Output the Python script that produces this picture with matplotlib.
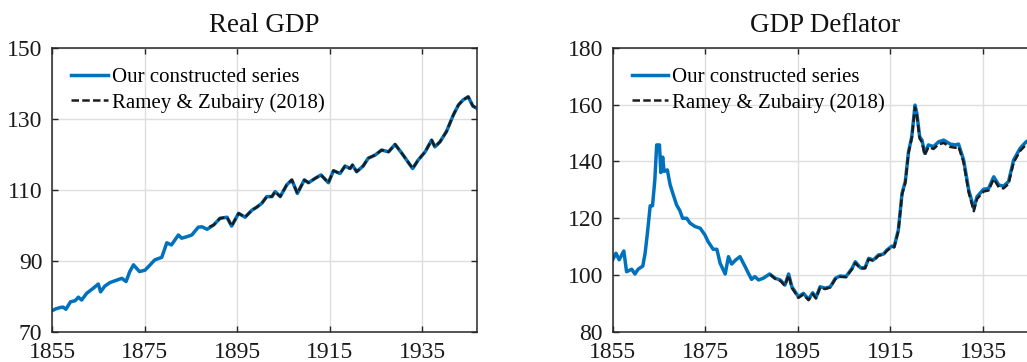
import numpy as np
import matplotlib
matplotlib.use("Agg")
import matplotlib.pyplot as plt

plt.rcParams['font.family'] = ['Liberation Serif', 'DejaVu Serif']

# Real GDP (index)
gdp_years = [1855.0, 1855.8, 1856.8, 1857.4, 1858.0, 1859.0, 1860.0, 1860.7, 1861.4, 1862.5,
             1863.9, 1865.0, 1865.5, 1866.4, 1867.5, 1869.0, 1870.1, 1871.0, 1871.8, 1872.6,
             1873.9, 1875.1, 1876.2, 1877.2, 1878.7, 1879.0, 1879.8, 1880.8, 1882.3, 1883.0,
             1884.1, 1885.2, 1886.6, 1887.4, 1888.5, 1889.9, 1891.3, 1892.8, 1893.8, 1895.3,
             1896.7, 1898.2, 1899.2, 1900.3, 1901.4, 1902.5, 1903.2, 1904.3, 1905.7, 1906.8,
             1908.0, 1909.5, 1910.4, 1911.8, 1913.1, 1914.7, 1915.8, 1917.2, 1918.3, 1919.4,
             1919.9, 1920.8, 1922.2, 1923.3, 1924.8, 1926.2, 1927.7, 1929.1, 1930.5, 1931.6,
             1932.9, 1934.1, 1935.6, 1937.0, 1937.7, 1938.8, 1940.2, 1941.7, 1942.8, 1943.8,
             1944.9, 1945.9, 1946.8]
gdp_ours = [76.0, 76.5, 76.9, 77.0, 76.4, 78.5, 78.8, 79.8, 79.0, 80.9,
            82.3, 83.5, 81.3, 82.9, 83.9, 84.6, 85.1, 84.2, 87.0, 88.9,
            87.0, 87.4, 88.9, 90.3, 91.0, 92.1, 95.1, 94.5, 97.3, 96.4,
            96.8, 97.3, 99.5, 99.6, 98.9, 100.1, 102.0, 102.3, 99.8, 103.4,
            102.3, 104.3, 105.1, 106.2, 108.1, 108.1, 109.5, 108.1, 111.4, 112.8,
            109.0, 112.8, 112.0, 113.2, 114.2, 112.0, 115.4, 114.6, 116.7, 116.0,
            117.0, 115.1, 116.7, 118.9, 119.8, 121.2, 120.7, 122.8, 120.4, 118.4,
            116.0, 118.4, 120.7, 124.0, 122.1, 123.5, 126.4, 131.1, 133.9, 135.3,
            136.2, 133.6, 132.9]

rz_gdp_years = [1889.0, 1889.9, 1891.3, 1892.8, 1893.8, 1895.3,
                1896.7, 1898.2, 1899.2, 1900.3, 1901.4, 1902.5, 1903.2, 1904.3, 1905.7, 1906.8,
                1908.0, 1909.5, 1910.4, 1911.8, 1913.1, 1914.7, 1915.8, 1917.2, 1918.3, 1919.4,
                1919.9, 1920.8, 1922.2, 1923.3, 1924.8, 1926.2, 1927.7, 1929.1, 1930.5, 1931.6,
                1932.9, 1934.1, 1935.6, 1937.0, 1937.7, 1938.8, 1940.2, 1941.7, 1942.8, 1943.8,
                1944.9, 1945.9, 1946.8]
rz_gdp = [99.6, 100.1, 102.0, 102.3, 99.8, 103.4,
          102.3, 104.3, 105.1, 106.2, 108.1, 108.1, 109.5, 108.1, 111.4, 112.8,
          109.0, 112.8, 112.0, 113.2, 114.2, 112.0, 115.4, 114.6, 116.7, 116.0,
          117.0, 115.1, 116.7, 118.9, 119.8, 121.2, 120.7, 122.8, 120.4, 118.4,
          116.0, 118.4, 120.7, 124.0, 122.1, 123.5, 126.4, 131.1, 133.9, 135.3,
          136.2, 133.6, 132.9]

# GDP deflator
defl_years = [1855.0, 1855.7, 1856.4, 1857.4, 1858.0, 1859.1, 1859.8, 1860.5, 1861.5, 1862.0,
              1862.5, 1863.1, 1863.6, 1864.1, 1864.5, 1865.1, 1865.4, 1865.8, 1866.1, 1866.8,
              1867.4, 1868.1, 1868.8, 1869.5, 1870.1, 1871.0, 1871.7, 1872.8, 1873.9, 1874.9,
              1875.6, 1876.7, 1877.5, 1878.2, 1879.3, 1880.0, 1880.7, 1881.6, 1882.5, 1883.6,
              1884.3, 1885.0, 1885.7, 1886.5, 1887.5, 1888.9, 1890.1, 1891.2, 1892.2, 1893.0,
              1893.7, 1894.4, 1895.1, 1896.2, 1897.3, 1898.2, 1898.9, 1899.8, 1900.9, 1902.0,
              1903.1, 1904.1, 1905.4, 1906.7, 1907.4, 1908.5, 1909.5, 1910.3, 1911.3, 1912.4,
              1913.5, 1914.2, 1915.3, 1915.8, 1916.7, 1917.5, 1918.2, 1918.9, 1919.6, 1920.3,
              1920.7, 1921.3, 1921.8, 1922.4, 1923.2, 1924.3, 1925.4, 1926.5, 1927.9, 1929.0,
              1929.7, 1930.8, 1931.9, 1933.0, 1933.7, 1935.1, 1936.2, 1937.3, 1938.4, 1939.4,
              1940.5, 1941.6, 1943.0, 1944.3, 1945.3, 1946.8]
defl_ours = [105.4, 107.7, 105.4, 108.5, 101.2, 102.1, 100.4, 102.1, 103.2, 107.7,
             114.8, 124.4, 124.4, 133.5, 145.8, 145.8, 136.1, 141.5, 136.5, 137.0,
             131.8, 128.2, 124.7, 122.7, 120.0, 120.0, 118.3, 117.1, 116.5, 114.2,
             111.8, 109.1, 109.1, 104.2, 100.4, 106.5, 103.9, 105.4, 106.5, 103.0,
             100.7, 98.5, 99.5, 98.3, 98.9, 100.4, 98.9, 98.3, 96.5, 100.4,
             95.9, 94.2, 92.4, 93.6, 91.5, 93.8, 92.1, 95.9, 95.4, 95.9,
             98.9, 99.7, 99.5, 102.4, 104.7, 102.6, 102.6, 105.9, 105.3, 107.1,
             107.4, 108.8, 110.2, 110.0, 115.9, 128.8, 132.9, 143.4, 148.7, 159.8,
             156.9, 148.7, 147.5, 142.8, 145.8, 145.2, 146.9, 147.5, 146.1, 145.8,
             146.1, 140.5, 129.9, 123.5, 127.6, 130.2, 130.5, 134.6, 131.7, 131.3,
             132.9, 140.5, 144.6, 146.9, 148.0, 149.0]

rz_defl_years = [1889.0, 1890.1, 1891.2, 1892.2, 1893.0,
                 1893.7, 1894.4, 1895.1, 1896.2, 1897.3, 1898.2, 1898.9, 1899.8, 1900.9, 1902.0,
                 1903.1, 1904.1, 1905.4, 1906.7, 1907.4, 1908.5, 1909.5, 1910.3, 1911.3, 1912.4,
                 1913.5, 1914.2, 1915.3, 1915.8, 1916.7, 1917.5, 1918.2, 1918.9, 1919.6, 1920.3,
                 1920.7, 1921.3, 1921.8, 1922.4, 1923.2, 1924.3, 1925.4, 1926.5, 1927.9, 1929.0,
                 1929.7, 1930.8, 1931.9, 1933.0, 1933.7, 1935.1, 1936.2, 1937.3, 1938.4, 1939.4,
                 1940.5, 1941.6, 1943.0, 1944.3, 1945.3, 1946.8]
rz_defl = [100.2, 98.7, 98.0, 96.3, 100.0,
           95.5, 93.8, 92.0, 93.2, 91.2, 93.4, 91.8, 95.6, 95.1, 95.7,
           98.6, 99.4, 99.3, 102.1, 104.3, 102.3, 102.4, 105.6, 105.0, 106.8,
           107.2, 108.5, 110.0, 109.8, 115.5, 128.3, 132.5, 143.0, 148.2, 159.0,
           156.2, 148.0, 146.8, 142.2, 145.0, 144.4, 146.0, 146.5, 145.1, 144.8,
           145.2, 139.6, 129.0, 122.5, 126.8, 129.4, 129.8, 133.8, 130.9, 130.5,
           132.1, 139.6, 143.7, 145.9, 147.0, 148.0]

xticks = [1855, 1875, 1895, 1915, 1935]

blue = '#0072BD'
dark = '#262626'

fig = plt.figure(figsize=(10.27, 3.62), dpi=100)
W, H = 1027, 362
ax1 = fig.add_axes([52 / W, 30 / H, 425 / W, 284.3 / H])
ax2 = fig.add_axes([612.7 / W, 30 / H, 425 / W, 284.3 / H])


def style(ax, title, yticks):
    ax.set_xlim(1855, 1946.8)
    ax.set_ylim(yticks[0], yticks[-1])
    ax.set_xticks(xticks)
    ax.set_yticks(yticks)
    ax.grid(True, color='#dedede', linewidth=1.0)
    ax.set_axisbelow(True)
    ax.tick_params(direction='in', length=4, width=1.0, colors=dark,
                   top=True, right=True, labelsize=17, pad=7)
    for lab in ax.get_xticklabels() + ax.get_yticklabels():
        lab.set_color('#1a1a1a')
    for s in ax.spines.values():
        s.set_color(dark)
        s.set_linewidth(1.1)
    ax.set_title(title, fontsize=19.5, pad=11, color='#111111')
    ax.legend(loc='upper left', bbox_to_anchor=(0.045, 0.93), frameon=False,
              fontsize=15, handlelength=1.75, handletextpad=0.2,
              labelspacing=0.28, borderpad=0, borderaxespad=0)


ax1.plot(gdp_years, gdp_ours, color=blue, lw=2.5, label='Our constructed series')
ax1.plot(rz_gdp_years, rz_gdp, color='#1c1c1c', lw=1.8, ls=(0, (3, 1.3)),
         label='Ramey & Zubairy (2018)')
style(ax1, 'Real GDP', [70, 90, 110, 130, 150])

ax2.plot(defl_years, defl_ours, color=blue, lw=2.5, label='Our constructed series')
ax2.plot(rz_defl_years, rz_defl, color='#1c1c1c', lw=1.8, ls=(0, (3, 1.3)),
         label='Ramey & Zubairy (2018)')
style(ax2, 'GDP Deflator', [80, 100, 120, 140, 160, 180])

fig.savefig('out.png', dpi=100)
